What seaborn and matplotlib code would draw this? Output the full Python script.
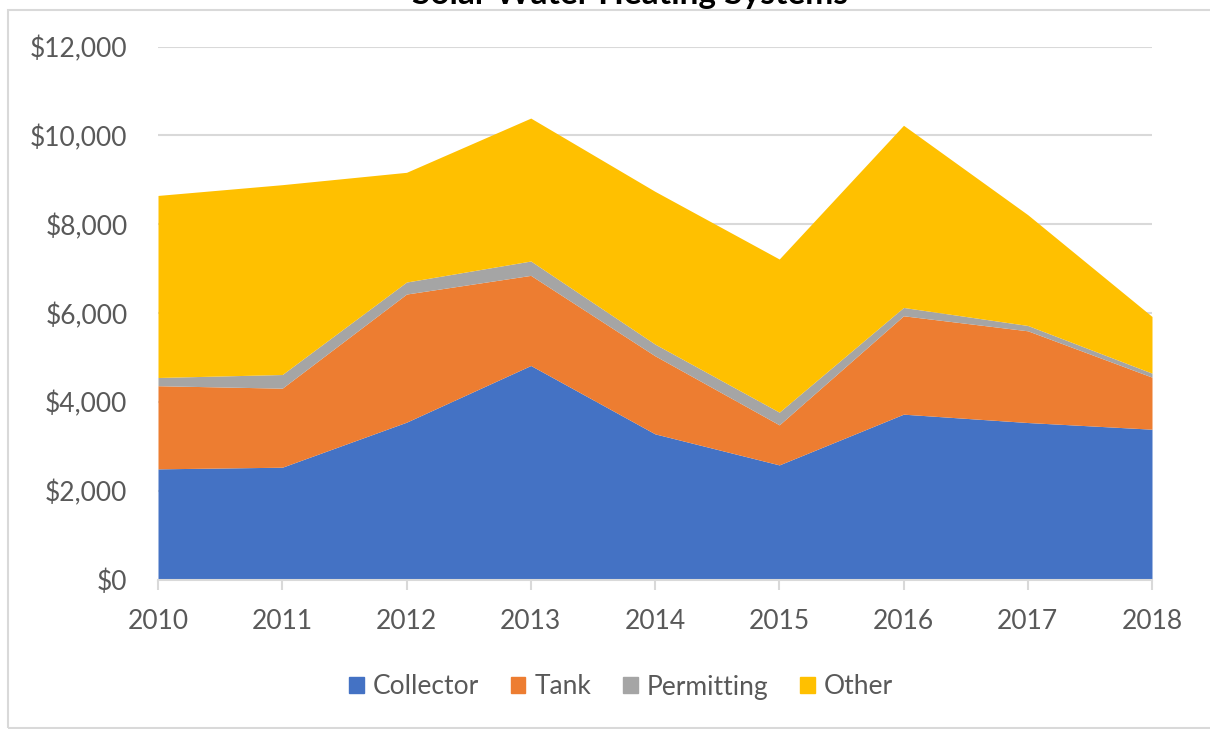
import matplotlib
matplotlib.use("Agg")
import matplotlib.pyplot as plt
import matplotlib.patches as mpatches
from matplotlib.ticker import FuncFormatter
import seaborn as sns
import numpy as np

years = [2010, 2011, 2012, 2013, 2014, 2015, 2016, 2017, 2018]
collector = [2500, 2537, 3550, 4825, 3287, 2589, 3730, 3542, 3392]
tank = [1870, 1778, 2882, 2027, 1756, 901, 2213, 2063, 1171]
permitting = [185, 307, 270, 323, 263, 285, 187, 120, 90]
other = [4095, 4270, 2468, 3215, 3436, 3445, 4098, 2492, 1275]
series_names = ["Collector", "Tank", "Permitting", "Other"]
colors = ["#4472C4", "#ED7D31", "#A5A5A5", "#FFC000"]
title = "Solar Water Heating Systems"

sns.set_theme(style="white")
plt.rcParams["font.family"] = ["Lato", "DejaVu Sans"]

W, H = 1210, 729
fig = plt.figure(figsize=(W / 100, H / 100), dpi=100)
ax = fig.add_axes([158 / W, 1 - 580 / H, (1152 - 158) / W, (580 - 46.5) / H])

ax.stackplot(years, collector, tank, permitting, other, colors=colors,
             labels=series_names, linewidth=0, zorder=2)

ax.set_xlim(years[0], years[-1])
ax.set_ylim(0, 12000)
ax.set_yticks(np.arange(0, 12001, 2000))
ax.yaxis.set_major_formatter(FuncFormatter(lambda v, p: f"${v:,.0f}"))
ax.set_xticks(years)
ax.set_xticklabels([str(y) for y in years])
ax.grid(axis="y", color="#D9D9D9", linewidth=1.5, zorder=0)
ax.set_axisbelow(True)
for s in ["top", "right", "left"]:
    ax.spines[s].set_visible(False)
ax.spines["bottom"].set_color("#D9D9D9")
ax.spines["bottom"].set_linewidth(1.5)
ax.spines["bottom"].set_zorder(3)
ax.tick_params(axis="x", which="both", bottom=True, length=7, width=1.5,
               color="#D9D9D9", labelsize=19, labelcolor="#595959", pad=14)
ax.tick_params(axis="y", length=0, labelsize=19, labelcolor="#595959", pad=22)

handles = [mpatches.Patch(color=c, label=n) for c, n in zip(colors, series_names)]
fig.legend(handles=handles, loc="center", bbox_to_anchor=(621 / W, 1 - 687 / H),
           ncol=4, frameon=False, fontsize=19, labelcolor="#595959",
           handlelength=0.55, handleheight=0.55, handletextpad=0.35,
           columnspacing=1.2)

fig.text(630 / W, 1 - 9 / H, title, ha="center", va="bottom",
         fontsize=24, fontweight="bold", color="black")

border = mpatches.Rectangle((8 / W, 1 - 728 / H), 1.1, (728 - 9.5) / H,
                            transform=fig.transFigure, fill=False,
                            edgecolor="#D9D9D9", linewidth=1.5, clip_on=False)
fig.patches.append(border)

fig.savefig("out.png", dpi=100)
